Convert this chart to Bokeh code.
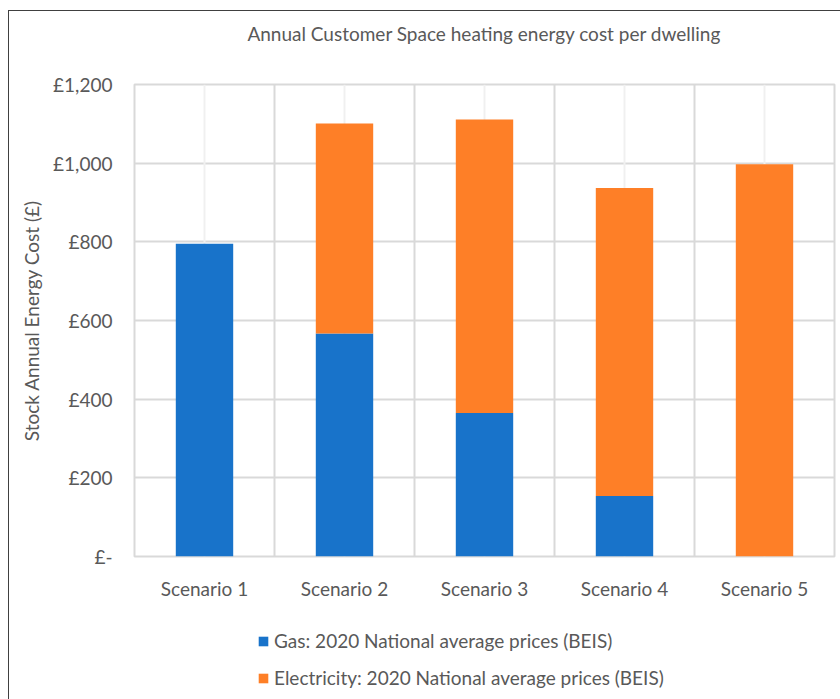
from bokeh.plotting import figure
from bokeh.layouts import column
from bokeh.models import FixedTicker, Legend, LegendItem, Grid, ColumnDataSource, Range1d, Label
from bokeh.embed import file_html
from bokeh.resources import INLINE

categories = ["Scenario 1", "Scenario 2", "Scenario 3", "Scenario 4", "Scenario 5"]
gas = [795, 567, 365, 154, 0]
electricity = [0, 534, 746, 783, 997]
y_ticks = [0, 200, 400, 600, 800, 1000, 1200]
y_tick_labels = ["£-", "£200", "£400", "£600", "£800", "£1,000", "£1,200"]
series_names = ["Gas: 2020 National average prices (BEIS)", "Electricity: 2020 National average prices (BEIS)"]
colors = ["#1873CA", "#FE7F27"]
title_text = "Annual Customer Space heating energy cost per dwelling"

FONT = "Lato"
FS = "19px"
TXT = "#595959"
GRID = "#d9d9d9"

xs = list(range(1, len(categories) + 1))
src = ColumnDataSource(dict(x=xs, gas=gas, electricity=electricity))

# title strip
tp = figure(width=832, height=60, output_backend="svg", toolbar_location=None,
            x_axis_type=None, y_axis_type=None, x_range=Range1d(0, 1), y_range=Range1d(0, 1),
            min_border=0)
tp.grid.visible = False
tp.outline_line_color = None
tp.add_layout(Label(x=350, y=38, x_units="screen", y_units="screen", text=title_text,
                    text_align="center", text_baseline="middle", text_font=FONT,
                    text_font_size=FS, text_color=TXT))

p = figure(width=832, height=541, output_backend="svg", toolbar_location=None,
           x_range=Range1d(0.5, len(categories) + 0.5), y_range=Range1d(0, 1200),
           min_border_left=125, min_border_right=7, min_border_top=13, min_border_bottom=56)

p.vbar_stack(["gas", "electricity"], x="x", width=0.41, color=colors, source=src, line_width=0)

# axes
p.xaxis.ticker = FixedTicker(ticks=xs)
p.xaxis.major_label_overrides = {x: c for x, c in zip(xs, categories)}
p.yaxis.ticker = FixedTicker(ticks=y_ticks)
p.yaxis.major_label_overrides = {t: l for t, l in zip(y_ticks, y_tick_labels)}
for ax in (p.xaxis, p.yaxis):
    ax.axis_line_color = None
    ax.major_tick_line_color = None
    ax.minor_tick_line_color = None
    ax.major_label_text_font = FONT
    ax.major_label_text_font_size = FS
    ax.major_label_text_color = TXT
p.xaxis.major_label_standoff = 14
p.yaxis.major_label_standoff = 16
p.yaxis.axis_label = "Stock Annual Energy Cost (£)"
p.yaxis.axis_label_text_font = FONT
p.yaxis.axis_label_text_font_size = FS
p.yaxis.axis_label_text_font_style = "normal"
p.yaxis.axis_label_text_color = TXT
p.yaxis.axis_label_standoff = 7

# grids
p.xgrid.visible = False
p.ygrid.grid_line_color = GRID
p.ygrid.grid_line_width = 2
boundaries = [x - 0.5 for x in xs] + [xs[-1] + 0.5]
p.add_layout(Grid(dimension=0, ticker=FixedTicker(ticks=xs), grid_line_color="#f0f0f0", grid_line_width=2), "center")
p.add_layout(Grid(dimension=0, ticker=FixedTicker(ticks=boundaries), grid_line_color=GRID, grid_line_width=2), "center")
p.outline_line_color = GRID
p.outline_line_width = 2
p.background_fill_color = "white"
p.border_fill_color = "white"

# legend strip below the chart (its renderers are hidden; only the legend shows)
lp = figure(width=832, height=88, output_backend="svg", toolbar_location=None,
            x_axis_type=None, y_axis_type=None, x_range=Range1d(0.5, len(categories) + 0.5),
            y_range=Range1d(0, 1200), min_border=0)
lp.grid.visible = False
lp.outline_line_color = None
lrs = lp.vbar_stack(["gas", "electricity"], x="x", width=0.41, color=colors, source=src, line_width=0)
for r in lrs:
    r.visible = False
legend = Legend(items=[LegendItem(label=n, renderers=[r]) for n, r in zip(series_names, lrs)],
                location=(123, 11), orientation="vertical",
                glyph_width=12, glyph_height=12, label_standoff=5, spacing=14,
                padding=0, margin=0, border_line_color=None, background_fill_alpha=0,
                inactive_fill_alpha=0,
                label_text_font=FONT, label_text_font_size=FS, label_text_color=TXT,
                label_height=22)
lp.add_layout(legend, "center")

layout = column(tp, p, lp, spacing=0)
layout.margin = (10, 0, 0, 8)
layout.styles = {"border-left": "1px solid #404040", "border-top": "1px solid #404040"}

open("out.html", "w").write(file_html(layout, INLINE))
